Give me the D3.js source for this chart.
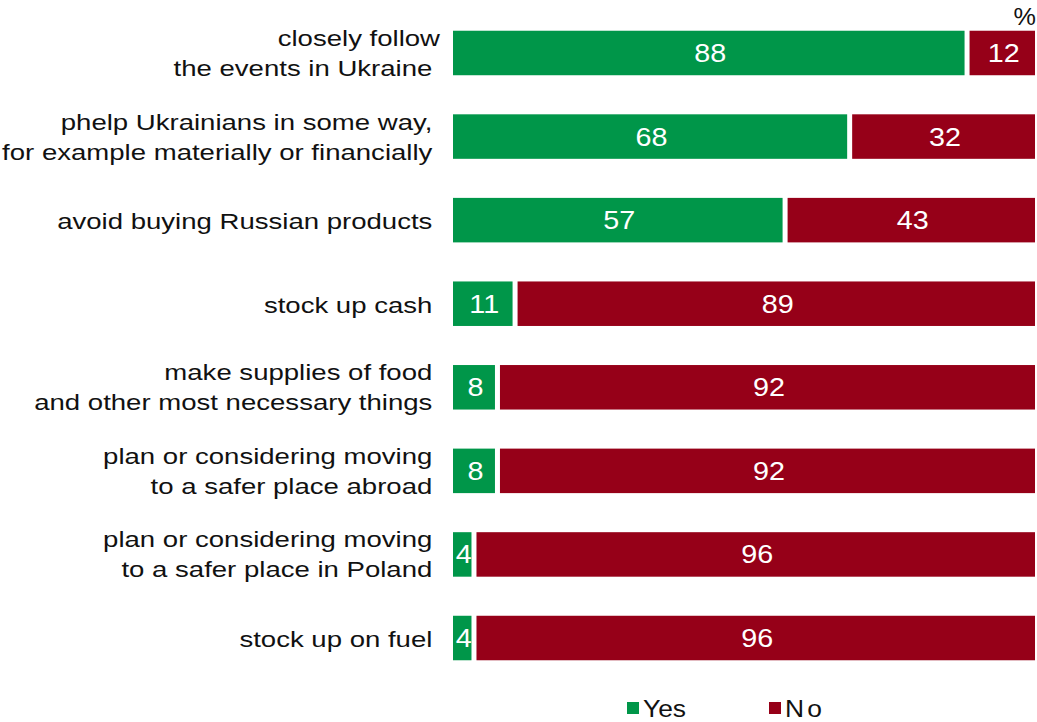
<!DOCTYPE html>
<html>
<head>
<meta charset="utf-8">
<script src="https://cdn.jsdelivr.net/npm/d3@7"></script>
<style>
  html, body { margin: 0; padding: 0; background: #ffffff; }
  svg { display: block; font-family: "Liberation Sans", Arial, sans-serif; }
</style>
</head>
<body>
<svg id="chart" width="1037" height="722"></svg>
<script>
// Survey answers, one row per activity (line breaks split the label)
const categories = [
  "closely follow\nthe events in Ukraine ",
  "phelp Ukrainians in some way, \nfor example materially or financially ",
  "avoid buying Russian products ",
  "stock up cash ",
  "make supplies of food \nand other most necessary things ",
  "plan or considering moving \nto a safer place abroad ",
  "plan or considering moving \nto a safer place in Poland ",
  "stock up on fuel "
];
const yesValues = [88, 68, 57, 11, 8, 8, 4, 4];
const noValues  = [12, 32, 43, 89, 92, 92, 96, 96];
const seriesNames = ["Yes", "No"];
const seriesColors = ["#009649", "#960018"];
const unitLabel = "%";

const svg = d3.select("#chart");

const x = d3.scaleLinear().domain([0, 100]).range([450.5, 1037.5]);
const y = d3.scaleBand()
  .domain(categories)
  .range([11.2, 679.8])
  .paddingInner(0.4675)
  .paddingOuter(0.23375);

const gap = 2.5;        // white separation on each side of a segment
const stretch = 1.22;   // wide lettering of the labels
const valStretch = 1.15;

const rows = categories.map((c, i) => ({
  cat: c,
  segs: [
    { s: 0, v: yesValues[i], k: 0 },
    { s: yesValues[i], v: noValues[i], k: 1 }
  ]
}));

const row = svg.selectAll("g.row").data(rows).join("g")
  .attr("class", "row")
  .attr("transform", d => `translate(0,${y(d.cat)})`);

const seg = row.selectAll("g.seg").data(d => d.segs).join("g").attr("class", "seg");

seg.append("rect")
  .attr("x", d => x(d.s) + gap)
  .attr("y", 0)
  .attr("width", d => x(d.s + d.v) - x(d.s) - 2 * gap)
  .attr("height", y.bandwidth())
  .attr("fill", d => seriesColors[d.k]);

seg.append("text")
  .attr("transform", d =>
    `translate(${(x(d.s) + x(d.s + d.v)) / 2 + 1.5},${y.bandwidth() / 2 + 9}) scale(${valStretch},1)`)
  .attr("text-anchor", "middle")
  .attr("fill", "#ffffff")
  .attr("font-size", 25)
  .text(d => d.v);

// Category labels, right aligned to the left of the bars
row.append("text")
  .attr("xml:space", "preserve")
  .style("white-space", "pre")
  .attr("transform", `translate(440,0) scale(${stretch},1)`)
  .attr("text-anchor", "end")
  .attr("font-size", 22.6)
  .attr("fill", "#111111")
  .each(function(d) {
    const lines = d.cat.split("\n");
    const c = y.bandwidth() / 2;
    const base = lines.length === 1 ? [c + 9] : [c - 7, c + 23];
    d3.select(this).selectAll("tspan").data(lines).join("tspan")
      .attr("x", 0)
      .attr("y", (l, j) => base[j])
      .text(l => l);
  });

// Unit marker
svg.append("text")
  .attr("transform", "translate(1036,25) scale(1.05,1)")
  .attr("text-anchor", "end")
  .attr("font-size", 24)
  .attr("fill", "#111111")
  .text(unitLabel);

// Legend
const legendX = [627, 769];
const legend = svg.selectAll("g.legend").data(seriesNames).join("g")
  .attr("class", "legend")
  .attr("transform", (d, i) => `translate(${legendX[i]},702)`);
legend.append("rect")
  .attr("width", 12).attr("height", 12)
  .attr("fill", (d, i) => seriesColors[i]);
legend.append("text")
  .attr("transform", "translate(16,15) scale(1.1,1)")
  .attr("font-size", 24)
  .attr("fill", "#111111")
  .attr("letter-spacing", (d, i) => i === 1 ? 3 : 0)
  .text(d => d);
</script>
</body>
</html>
